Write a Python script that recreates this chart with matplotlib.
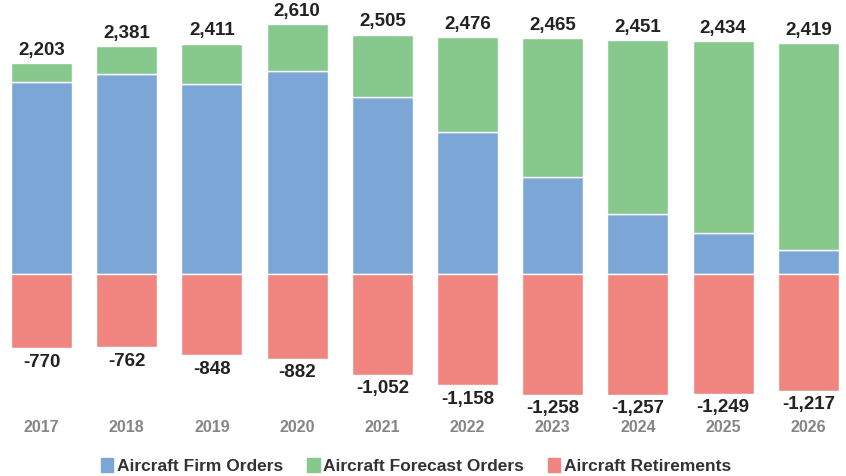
import matplotlib
matplotlib.use('Agg')
import matplotlib.pyplot as plt
from matplotlib.patches import Patch

plt.rcParams['font.family'] = ['Liberation Sans', 'DejaVu Sans']

# Data
years = ['2017', '2018', '2019', '2020', '2021', '2022', '2023', '2024', '2025', '2026']
firm_orders = [2013, 2093, 1992, 2124, 1856, 1490, 1020, 627, 432, 257]
totals = [2203, 2381, 2411, 2610, 2505, 2476, 2465, 2451, 2434, 2419]
forecast_orders = [t - f for t, f in zip(totals, firm_orders)]
retirements = [-770, -762, -848, -882, -1052, -1158, -1258, -1257, -1249, -1217]

c_firm = '#7ba6d6'
c_fore = '#87c98d'
c_ret = '#f0857f'

fig = plt.figure(figsize=(8.46, 4.76), dpi=100)
ax = fig.add_axes([0, 0, 1, 1])
x = list(range(len(years)))
w = 0.716

ax.bar(x, firm_orders, w, color=c_firm, edgecolor='white', linewidth=1)
ax.bar(x, forecast_orders, w, bottom=firm_orders, color=c_fore, edgecolor='white', linewidth=1)
ax.bar(x, retirements, w, color=c_ret, edgecolor='white', linewidth=1)

for i in x:
    ax.annotate(f'{totals[i]:,}', (i, totals[i]), xytext=(0, 3), textcoords='offset points',
                ha='center', va='bottom', fontsize=13.5, fontweight='bold', color='#222222')
    ax.annotate(f'{retirements[i]:,}', (i, retirements[i]), xytext=(0, -4), textcoords='offset points',
                ha='center', va='top', fontsize=13.5, fontweight='bold', color='#222222')
    ax.text(i, -1596, years[i], ha='center', va='center', fontsize=11.5,
            fontweight='bold', color='#858585')

ax.set_xlim(-0.487, 9.442)
ax.set_ylim(-2108, 2866)
ax.axis('off')

handles = [Patch(color=c_firm, label='Aircraft Firm Orders'),
           Patch(color=c_fore, label='Aircraft Forecast Orders'),
           Patch(color=c_ret, label='Aircraft Retirements')]
fig.legend(handles=handles, loc='center', bbox_to_anchor=(0.492, 1 - 466 / 476), ncol=3,
           frameon=False, handlelength=0.7, handleheight=0.9, handletextpad=0.2,
           columnspacing=1.4, prop={'weight': 'bold', 'size': 12.5}, labelcolor='#333333')

fig.savefig('out.png', dpi=100)
